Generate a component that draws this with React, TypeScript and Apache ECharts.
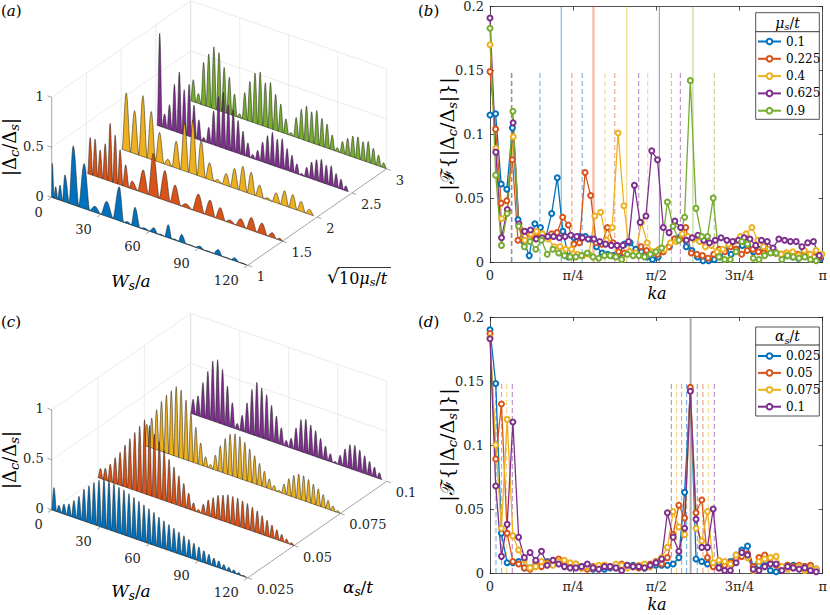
import React, { useEffect, useRef } from "react";
import * as echarts from "echarts";

const SERIF = "DejaVu Serif";
const INK = "#262626";
const GRID_GRAY = "#e3e3e3";
const AXIS_GRAY = "#8c8c8c";
const COLORS = ["#0072BD", "#D95319", "#EDB120", "#7E2F8E", "#77AC30", "#808080"];

// ---------------- panel (b): spectra vs mu_s/t ----------------
const MU_VALUES = [0.1, 0.225, 0.4, 0.625, 0.9];
const MU_LABELS = ["0.1", "0.225", "0.4", "0.625", "0.9"];
const B_K_STEP = [1 / 59.35, 1 / 59.5, 1 / 57.15, 1 / 57.6, 1 / 58.14]; // in units of pi
const B_MU_010 = [
  0.115, 0.116, 0.061, 0.057, 0.105, 0.033, 0.016, 0.005, 0.03, 0.027,
  0.02, 0.038, 0.066, 0.024, 0.004, 0.019, 0.02, 0.02, 0.018, 0.012,
  0.007, 0.006, 0.005, 0.006, 0.014, 0.015, 0.01, 0.008, 0.004, 0.002,
  0.004, 0.01, 0.012, 0.018, 0.02, 0.012, 0.009, 0.004, 0.001, 0.001,
  0.002, 0.004, 0.009, 0.006, 0.01, 0.013, 0.012, 0.008, 0.01, 0.012,
  0.009, 0.007, 0.006, 0.005, 0.004, 0.003, 0.008, 0.006, 0.004, 0.003,
];
const B_MU_0225 = [
  0.149, 0.104, 0.046, 0.048, 0.08, 0.017, 0.024, 0.022, 0.019, 0.022,
  0.02, 0.022, 0.023, 0.035, 0.029, 0.014, 0.015, 0.07, 0.052, 0.015,
  0.014, 0.027, 0.015, 0.008, 0.007, 0.008, 0.006, 0.012, 0.009, 0.007,
  0.006, 0.008, 0.012, 0.018, 0.018, 0.027, 0.007, 0.006, 0.005, 0.003,
  0.006, 0.01, 0.008, 0.012, 0.01, 0.006, 0.009, 0.01, 0.008, 0.007,
  0.009, 0.007, 0.006, 0.007, 0.005, 0.006, 0.005, 0.006, 0.004, 0.004,
];
const B_MU_040 = [
  0.17, 0.089, 0.034, 0.04, 0.098, 0.028, 0.017, 0.022, 0.024, 0.022,
  0.018, 0.012, 0.012, 0.01, 0.01, 0.006, 0.005, 0.006, 0.036, 0.039,
  0.017, 0.027, 0.101, 0.044, 0.008, 0.007, 0.031, 0.015, 0.008, 0.01,
  0.01, 0.015, 0.016, 0.022, 0.02, 0.018, 0.016, 0.012, 0.013, 0.008,
  0.01, 0.014, 0.016, 0.02, 0.022, 0.027, 0.017, 0.012, 0.01, 0.008,
  0.006, 0.007, 0.008, 0.005, 0.009, 0.006, 0.009, 0.006,
];
const B_MU_0625 = [
  0.191, 0.086, 0.019, 0.041, 0.109, 0.03, 0.024, 0.025, 0.018, 0.019,
  0.02, 0.02, 0.019, 0.02, 0.021, 0.02, 0.019, 0.018, 0.018, 0.016,
  0.014, 0.013, 0.013, 0.013, 0.016, 0.06, 0.031, 0.036, 0.087, 0.08,
  0.027, 0.023, 0.032, 0.027, 0.017, 0.019, 0.021, 0.017, 0.015, 0.017,
  0.019, 0.017, 0.016, 0.017, 0.019, 0.018, 0.013, 0.017, 0.016, 0.011,
  0.018, 0.017, 0.016, 0.016, 0.012, 0.015, 0.016, 0.005,
];
// mu_s/t = 0.9 in (b) and alpha_s/t = 0.1 in (d) are the same curve
const B_MU_090 = [
  0.183, 0.068, 0.013, 0.038, 0.118, 0.028, 0.012, 0.016, 0.01, 0.017,
  0.006, 0.01, 0.007, 0.005, 0.004, 0.004, 0.005, 0.007, 0.004, 0.003,
  0.005, 0.005, 0.004, 0.002, 0.006, 0.005, 0.005, 0.004, 0.006, 0.008,
  0.011, 0.047, 0.028, 0.017, 0.035, 0.142, 0.042, 0.02, 0.02, 0.05,
  0.004, 0.002, 0.002, 0.008, 0.016, 0.014, 0.003, 0.002, 0.005, 0.007,
  0.007, 0.002, 0.005, 0.004, 0.003, 0.004, 0.002, 0.001,
];
const B_SERIES = [B_MU_010, B_MU_0225, B_MU_040, B_MU_0625, B_MU_090];
const B_SOLID_K = [0.214, 0.311, 0.411, 0.509, 0.61];
const B_DASH_K = [
  [0.15, 0.277],
  [0.246, 0.375],
  [0.346, 0.474],
  [0.447, 0.572],
  [0.545, 0.674],
];
const B_GRAY_DASH_K = 0.065;

// ---------------- panel (d): spectra vs alpha_s/t ----------------
const ALPHA_VALUES = [0.025, 0.05, 0.075, 0.1];
const ALPHA_LABELS = ["0.025", "0.05", "0.075", "0.1"];
const D_K_STEP = 1 / 58.14;
const D_ALPHA_0025 = [
  0.19, 0.148, 0.031, 0.008, 0.008, 0.009, 0.004, 0.004, 0.006, 0.007,
  0.009, 0.008, 0.009, 0.006, 0.007, 0.006, 0.005, 0.004, 0.003, 0.004,
  0.003, 0.004, 0.005, 0.006, 0.005, 0.006, 0.005, 0.004, 0.005, 0.006,
  0.006, 0.006, 0.007, 0.012, 0.063, 0.143, 0.011, 0.009, 0.007, 0.006,
  0.008, 0.007, 0.009, 0.014, 0.018, 0.021, 0.005, 0.006, 0.006, 0.002,
  0.001, 0.004, 0.006, 0.006, 0.005, 0.005, 0.005, 0.003,
];
const D_ALPHA_005 = [
  0.187, 0.089, 0.132, 0.031, 0.009, 0.007, 0.004, 0.003, 0.008, 0.005,
  0.008, 0.01, 0.011, 0.008, 0.006, 0.007, 0.004, 0.003, 0.005, 0.004,
  0.006, 0.005, 0.004, 0.007, 0.006, 0.005, 0.004, 0.006, 0.007, 0.009,
  0.007, 0.012, 0.03, 0.053, 0.043, 0.145, 0.047, 0.057, 0.012, 0.005,
  0.004, 0.006, 0.008, 0.011, 0.013, 0.015, 0.005, 0.012, 0.014, 0.008,
  0.006, 0.004, 0.006, 0.005, 0.006, 0.005, 0.006, 0.003,
];
const D_ALPHA_0075 = [
  0.184, 0.1, 0.035, 0.12, 0.029, 0.018, 0.01, 0.004, 0.005, 0.009,
  0.007, 0.006, 0.009, 0.01, 0.008, 0.007, 0.004, 0.005, 0.004, 0.006,
  0.006, 0.005, 0.007, 0.006, 0.004, 0.005, 0.006, 0.007, 0.005, 0.008,
  0.012, 0.02, 0.048, 0.036, 0.03, 0.142, 0.035, 0.025, 0.048, 0.008,
  0.01, 0.009, 0.007, 0.014, 0.016, 0.012, 0.002, 0.009, 0.011, 0.012,
  0.013, 0.005, 0.003, 0.004, 0.005, 0.002, 0.004, 0.003,
];
const D_SERIES = [D_ALPHA_0025, D_ALPHA_005, D_ALPHA_0075, B_MU_090];
const D_GRAY_SOLID_K = 0.603;
const D_DASH_K = [
  [0.018, 0.591, 0.623],
  [0.035, 0.576, 0.64],
  [0.05, 0.561, 0.656],
  [0.067, 0.545, 0.674],
];
const DASH_TOP = 0.15;

const K_TICKS = [0, 0.25, 0.5, 0.75, 1];
const K_TICK_LABELS = ["0", "π/4", "π/2", "3π/4", "π"];
const F_TICKS = [0, 0.05, 0.1, 0.15, 0.2];
const F_TICK_LABELS = ["0", "0.05", "0.1", "0.15", "0.2"];

// ---------------- panels (a)/(c): waterfalls of |Δc/Δs| vs Ws/a ----------------
const W_MAX = 120;
const W_TICKS = [0, 30, 60, 90, 120];
const W_TICK_LABELS = ["0", "30", "60", "90", "120"];
const Z_TICKS = [0, 0.5, 1];
const Z_TICK_LABELS = ["0", "0.5", "1"];
const SQRT_TICKS = [1, 1.5, 2, 2.5, 3];
const SQRT_TICK_LABELS = ["1", "1.5", "2", "2.5", "3"];

// (a) peak positions (W) and heights per ridge
const A_BLUE_W = [0.4, 2.4, 5.1, 8.1, 13.2, 19.9, 26.5, 33.7, 41.4, 46.5, 51, 57, 62.6, 67, 71.4, 75.5, 79.6, 85, 90.8, 96, 102, 107, 112.2, 117];
const A_BLUE_H = [0.34, 0.12, 0.15, 0.27, 0.59, 0.45, 0.06, 0.15, 0.34, 0.02, 0.19, 0.015, 0.05, 0.01, 0.13, 0.01, 0.08, 0.005, 0.025, 0.005, 0.055, 0.005, 0.03, 0.005];
const A_ORANGE_W = [2.3, 5.3, 8.4, 11.5, 14.5, 17.6, 20.6, 24, 28, 34.8, 40.9, 48.1, 54.3, 61, 68.6, 75.7, 82, 88, 94.5, 101, 107.5, 114, 118.5];
const A_ORANGE_H = [0.37, 0.37, 0.28, 0.36, 0.58, 0.48, 0.35, 0.22, 0.08, 0.23, 0.43, 0.3, 0.19, 0.04, 0.18, 0.16, 0.12, 0.03, 0.08, 0.13, 0.11, 0.05, 0.02];
const A_YELLOW_START = 3.1;
const A_YELLOW_PERIOD = 5.1;
const A_YELLOW_H = [0.58, 0.43, 0.61, 0.48, 0.3, 0.06, 0.27, 0.48, 0.54, 0.37, 0.17, 0.03, 0.12, 0.2, 0.25, 0.22, 0.12, 0.02, 0.1, 0.15, 0.14, 0.1, 0.05];
const A_PURPLE_START = 2.3;
const A_PURPLE_PERIOD = 3.0;
const A_PURPLE_H = [
  0.93, 0.14, 0.25, 0.47, 0.61, 0.45, 0.52, 0.33, 0.2, 0.04,
  0.16, 0.34, 0.5, 0.56, 0.45, 0.42, 0.33, 0.24, 0.14, 0.04,
  0.1, 0.2, 0.28, 0.33, 0.28, 0.3, 0.22, 0.17, 0.1, 0.02,
  0.1, 0.17, 0.21, 0.23, 0.19, 0.2, 0.14, 0.1, 0.05,
];
const A_GREEN_START = 1.6;
const A_GREEN_PERIOD = 3.15;
const A_GREEN_H = [
  0.22, 0.1, 0.43, 0.53, 0.62, 0.58, 0.45, 0.37, 0.22, 0.04,
  0.27, 0.4, 0.5, 0.53, 0.44, 0.46, 0.36, 0.28, 0.15, 0.03,
  0.2, 0.3, 0.35, 0.31, 0.34, 0.28, 0.24, 0.15, 0.04, 0.12,
  0.17, 0.21, 0.22, 0.19, 0.21, 0.16, 0.11, 0.05,
];

// (c) peak heights per ridge (regularly spaced peaks)
const C_BLUE_START = 1.4;
const C_BLUE_PERIOD = 3.06;
const C_BLUE_H = [
  0.23, 0.07, 0.1, 0.12, 0.17, 0.23, 0.32, 0.37, 0.42, 0.46,
  0.49, 0.49, 0.48, 0.46, 0.45, 0.43, 0.41, 0.39, 0.37, 0.35,
  0.33, 0.3, 0.28, 0.26, 0.24, 0.22, 0.2, 0.18, 0.16, 0.14,
  0.12, 0.1, 0.08, 0.07, 0.05, 0.04, 0.03, 0.02, 0.01,
];
const C_START = 1.5;
const C_PERIOD = 3.0;
const C_ORANGE_H = [
  0.1, 0.12, 0.18, 0.26, 0.33, 0.42, 0.5, 0.58, 0.66, 0.74,
  0.7, 0.63, 0.57, 0.5, 0.43, 0.37, 0.3, 0.24, 0.16, 0.08,
  0.03, 0.1, 0.16, 0.2, 0.24, 0.26, 0.28, 0.28, 0.28, 0.27,
  0.26, 0.24, 0.22, 0.19, 0.16, 0.13, 0.1, 0.07, 0.04, 0.02,
];
const C_YELLOW_H = [
  0.22, 0.3, 0.4, 0.5, 0.58, 0.64, 0.7, 0.68, 0.6, 0.48,
  0.36, 0.22, 0.1, 0.04, 0.15, 0.26, 0.35, 0.41, 0.43, 0.42,
  0.38, 0.33, 0.28, 0.22, 0.16, 0.1, 0.05, 0.02, 0.1, 0.17,
  0.22, 0.25, 0.25, 0.23, 0.2, 0.17, 0.13, 0.09, 0.05, 0.02,
];
const C_PURPLE_H = [
  0.15, 0.2, 0.35, 0.48, 0.6, 0.63, 0.55, 0.4, 0.25, 0.06,
  0.16, 0.3, 0.45, 0.54, 0.5, 0.45, 0.36, 0.27, 0.17, 0.06,
  0.1, 0.22, 0.32, 0.34, 0.3, 0.26, 0.2, 0.14, 0.08, 0.02,
  0.1, 0.18, 0.24, 0.25, 0.22, 0.18, 0.14, 0.1, 0.06,
];

// ---------------- layout of the projected 3-D boxes ----------------
const L3 = { ox: 51.7, oy: [197.3, 509.8], wx: 196 / 120, wy: 68 / 120, dx: 139, dy: -96.5, zy: -100 };
function project(panel: number, w: number, d: number, z: number) {
  return [L3.ox + w * L3.wx + d * L3.dx, L3.oy[panel] + w * L3.wy + d * L3.dy + z * L3.zy];
}
const sqrtFrac = (s: number) => (s - 1) / 2;
const alphaFrac = (a: number) => (a - 0.025) / 0.075;
const regular = (start: number, period: number, n: number) => Array.from({ length: n }, (_, i) => start + i * period);

function lobes(positions: number[], heights: number[]) {
  const n = positions.length;
  const out: number[][] = [];
  for (let i = 0; i < n; i++) {
    const p = positions[i];
    const left = i === 0 ? Math.max(0, p - (positions[1] - p) / 2) : (positions[i - 1] + p) / 2;
    const right = i === n - 1 ? Math.min(W_MAX, p + (p - positions[i - 1]) / 2) : (p + positions[i + 1]) / 2;
    out.push([left, p, right, heights[i]]);
  }
  return out;
}

function ridgeSeries(panel: number, depth: number, color: string, positions: number[], heights: number[]) {
  return {
    type: "custom",
    coordinateSystem: "cartesian2d",
    xAxisIndex: 4,
    yAxisIndex: 4,
    silent: true,
    clip: false,
    data: lobes(positions, heights),
    renderItem: (_p: any, api: any) => {
      const L = api.value(0), P = api.value(1), R = api.value(2), H = api.value(3);
      const pt = (w: number, z: number) => api.coord(project(panel, w, depth, z));
      const pts: number[][] = [pt(L, 0)];
      const n = 7;
      for (let k = 1; k <= n; k++) pts.push(pt(L + ((P - L) * k) / n, H * Math.pow(Math.sin((Math.PI / 2) * (k / n)), 1.6)));
      for (let k = 1; k <= n; k++) pts.push(pt(P + ((R - P) * k) / n, H * Math.pow(Math.cos((Math.PI / 2) * (k / n)), 1.6)));
      return {
        type: "polygon",
        shape: { points: pts },
        style: { fill: color, stroke: "#1c1c1c", lineWidth: 0.5, lineJoin: "round" },
      };
    },
  };
}

function frameSeries(panel: number, depthFracs: number[]) {
  const segs: number[][] = [];
  depthFracs.forEach((d) => { if (d > 0) segs.push([0, d, 0, 0, d, 1, 0]); });
  Z_TICKS.forEach((z) => segs.push([0, 0, z, 0, 1, z, 0]));
  W_TICKS.forEach((w) => segs.push([w, 1, 0, w, 1, 1, 0]));
  Z_TICKS.forEach((z) => segs.push([0, 1, z, W_MAX, 1, z, 0]));
  segs.push([0, 0, 0, 0, 0, 1, 1]);
  segs.push([0, 0, 0, W_MAX, 0, 0, 1]);
  segs.push([W_MAX, 0, 0, W_MAX, 1, 0, 1]);
  return {
    type: "custom",
    coordinateSystem: "cartesian2d",
    xAxisIndex: 4,
    yAxisIndex: 4,
    silent: true,
    clip: false,
    data: segs,
    renderItem: (_p: any, api: any) => {
      const a = api.coord(project(panel, api.value(0), api.value(1), api.value(2)));
      const b = api.coord(project(panel, api.value(3), api.value(4), api.value(5)));
      const axis = api.value(6) === 1;
      return {
        type: "line",
        shape: { x1: a[0], y1: a[1], x2: b[0], y2: b[1] },
        style: { stroke: axis ? AXIS_GRAY : GRID_GRAY, lineWidth: axis ? 0.8 : 0.7 },
      };
    },
  };
}

function unit(x: number, y: number) {
  const l = Math.hypot(x, y);
  return [x / l, y / l];
}
const TICK_DIRS = [unit(-L3.wx, -L3.wy), unit(-L3.dx, -L3.dy), unit(L3.wx, L3.wy)];

function tickSeries(panel: number, depthFracs: number[]) {
  const data: number[][] = [];
  Z_TICKS.forEach((z) => data.push([0, 0, z, 0]));
  W_TICKS.forEach((w) => data.push([w, 0, 0, 1]));
  depthFracs.forEach((d) => data.push([W_MAX, d, 0, 2]));
  return {
    type: "custom",
    coordinateSystem: "cartesian2d",
    xAxisIndex: 4,
    yAxisIndex: 4,
    silent: true,
    clip: false,
    data,
    renderItem: (_p: any, api: any) => {
      const a = api.coord(project(panel, api.value(0), api.value(1), api.value(2)));
      const dir = TICK_DIRS[api.value(3)];
      return {
        type: "line",
        shape: { x1: a[0], y1: a[1], x2: a[0] + dir[0] * 4.5, y2: a[1] + dir[1] * 4.5 },
        style: { stroke: AXIS_GRAY, lineWidth: 0.8 },
      };
    },
  };
}

const LABEL_OFFSETS = [
  { dx: -8, dy: -1, align: "right" },
  { dx: -9, dy: 15, align: "right" },
  { dx: 9, dy: 11.5, align: "left" },
];
function labelSeries(panel: number, depthFracs: number[], depthLabels: string[]) {
  const texts: string[] = [];
  const data: number[][] = [];
  Z_TICKS.forEach((z, i) => { data.push([0, 0, z, 0, texts.length]); texts.push(Z_TICK_LABELS[i]); });
  W_TICKS.forEach((w, i) => { data.push([w, 0, 0, 1, texts.length]); texts.push(W_TICK_LABELS[i]); });
  depthFracs.forEach((d, i) => { data.push([W_MAX, d, 0, 2, texts.length]); texts.push(depthLabels[i]); });
  return {
    type: "custom",
    coordinateSystem: "cartesian2d",
    xAxisIndex: 4,
    yAxisIndex: 4,
    silent: true,
    clip: false,
    data,
    renderItem: (_p: any, api: any) => {
      const a = api.coord(project(panel, api.value(0), api.value(1), api.value(2)));
      const o = LABEL_OFFSETS[api.value(3)];
      return {
        type: "text",
        x: a[0] + o.dx,
        y: a[1] + o.dy,
        style: {
          text: texts[api.value(4)],
          fill: INK,
          fontFamily: SERIF,
          fontSize: 13,
          align: o.align,
          verticalAlign: "middle",
        },
      };
    },
  };
}

function vlineSeries(xAxisIndex: number, yAxisIndex: number, data: number[][]) {
  return {
    type: "custom",
    xAxisIndex,
    yAxisIndex,
    silent: true,
    z: 1,
    data,
    renderItem: (_p: any, api: any) => {
      const a = api.coord([api.value(0), api.value(1)]);
      const b = api.coord([api.value(0), api.value(2)]);
      return {
        type: "line",
        shape: { x1: a[0], y1: a[1], x2: b[0], y2: b[1] },
        style: {
          stroke: COLORS[api.value(3)],
          lineWidth: api.value(5),
          opacity: api.value(6),
          lineDash: api.value(4) ? [5, 3] : null,
        },
      };
    },
  };
}

function richFor(size: number) {
  return {
    i: { fontFamily: SERIF, fontStyle: "italic", fontSize: size, fill: "#000" },
    s: {
      fontFamily: SERIF,
      fontStyle: "italic",
      fontSize: Math.round(size * 0.7),
      lineHeight: Math.round(size * 0.7),
      verticalAlign: "bottom",
      fill: "#000",
    },
  };
}
function mathText(x: number, y: number, text: string, size = 16, rot = 0, align = "center") {
  return {
    type: "text",
    x,
    y,
    rotation: rot,
    z: 100,
    silent: true,
    style: {
      text,
      rich: richFor(size),
      fontFamily: SERIF,
      fontSize: size,
      fill: "#000",
      align,
      verticalAlign: "middle",
      lineHeight: Math.round(size * 1.25),
    },
  };
}
function hline(x1: number, y1: number, x2: number, y2: number, w = 0.8) {
  return { type: "line", z: 100, silent: true, shape: { x1, y1, x2, y2 }, style: { stroke: "#000", lineWidth: w } };
}
function legendBox(x: number, y: number, w: number, h: number) {
  return { type: "rect", z: 3.5, silent: true, shape: { x, y, width: w, height: h }, style: { fill: "#fff", stroke: INK, lineWidth: 0.8 } };
}

function lineAxes(gridIndex: number) {
  const line = { show: true, onZero: false, lineStyle: { color: INK, width: 0.8 } };
  const tick = { show: true, inside: true, length: 4, lineStyle: { color: INK, width: 0.8 } };
  const x = (pos: string, labels: boolean) => ({
    type: "value",
    gridIndex,
    position: pos,
    min: 0,
    max: 1,
    interval: 0.25,
    axisLine: line,
    axisTick: tick,
    splitLine: { show: false },
    axisLabel: {
      show: labels,
      margin: 6,
      color: INK,
      fontFamily: SERIF,
      fontSize: 13,
      lineHeight: 14,
      formatter: (v: number) => {
        const i = K_TICKS.findIndex((t) => Math.abs(t - v) < 1e-9);
        return i >= 0 ? K_TICK_LABELS[i] : "";
      },
    },
  });
  const y = (pos: string, labels: boolean) => ({
    type: "value",
    gridIndex,
    position: pos,
    min: 0,
    max: 0.2,
    interval: 0.05,
    axisLine: line,
    axisTick: tick,
    splitLine: { show: false },
    axisLabel: {
      show: labels,
      margin: 6,
      color: INK,
      fontFamily: SERIF,
      fontSize: 13,
      formatter: (v: number) => {
        const i = F_TICKS.findIndex((t) => Math.abs(t - v) < 1e-9);
        return i >= 0 ? F_TICK_LABELS[i] : "";
      },
    },
  });
  return { xs: [x("bottom", true), x("top", false)], ys: [y("left", true), y("right", false)] };
}

function lineSeries(name: string, color: string, xIdx: number, yIdx: number, values: number[], step: number) {
  return {
    name,
    type: "line",
    xAxisIndex: xIdx,
    yAxisIndex: yIdx,
    data: values.map((v, i) => [i * step, v]),
    symbol: "emptyCircle",
    symbolSize: 5,
    showSymbol: true,
    showAllSymbol: true,
    z: 3,
    lineStyle: { color, width: 1.3 },
    itemStyle: { color, borderWidth: 1.1 },
    emphasis: { disabled: true },
  };
}

function buildOption() {
  const series: any[] = [];
  const aDepth = SQRT_TICKS.map(sqrtFrac);
  const cDepth = ALPHA_VALUES.map(alphaFrac);

  series.push(frameSeries(0, aDepth));
  series.push(frameSeries(1, cDepth));

  const aRidges = [
    { pos: A_BLUE_W, h: A_BLUE_H },
    { pos: A_ORANGE_W, h: A_ORANGE_H },
    { pos: regular(A_YELLOW_START, A_YELLOW_PERIOD, A_YELLOW_H.length), h: A_YELLOW_H },
    { pos: regular(A_PURPLE_START, A_PURPLE_PERIOD, A_PURPLE_H.length), h: A_PURPLE_H },
    { pos: regular(A_GREEN_START, A_GREEN_PERIOD, A_GREEN_H.length), h: A_GREEN_H },
  ];
  for (let r = aRidges.length - 1; r >= 0; r--) {
    series.push(ridgeSeries(0, sqrtFrac(Math.sqrt(10 * MU_VALUES[r])), COLORS[r], aRidges[r].pos, aRidges[r].h));
  }
  const cRidges = [
    { pos: regular(C_BLUE_START, C_BLUE_PERIOD, C_BLUE_H.length), h: C_BLUE_H },
    { pos: regular(C_START, C_PERIOD, C_ORANGE_H.length), h: C_ORANGE_H },
    { pos: regular(C_START, C_PERIOD, C_YELLOW_H.length), h: C_YELLOW_H },
    { pos: regular(C_START, C_PERIOD, C_PURPLE_H.length), h: C_PURPLE_H },
  ];
  for (let r = cRidges.length - 1; r >= 0; r--) {
    series.push(ridgeSeries(1, alphaFrac(ALPHA_VALUES[r]), COLORS[r], cRidges[r].pos, cRidges[r].h));
  }
  series.push(tickSeries(0, aDepth), tickSeries(1, cDepth));
  series.push(labelSeries(0, aDepth, SQRT_TICK_LABELS), labelSeries(1, cDepth, ALPHA_LABELS));

  const bV: number[][] = [[B_GRAY_DASH_K, 0, DASH_TOP, 5, 1, 1.6, 0.85]];
  B_SOLID_K.forEach((k, c) => bV.push([k, 0, 0.2, c, 0, c === 1 ? 2.6 : 1, c === 1 ? 0.35 : 0.6]));
  B_DASH_K.forEach((ks, c) => ks.forEach((k) => bV.push([k, 0, DASH_TOP, c, 1, 1, 0.6])));
  series.push(vlineSeries(0, 0, bV));
  B_SERIES.forEach((vals, c) => series.push(lineSeries("b" + c, COLORS[c], 0, 0, vals, B_K_STEP[c])));

  const dV: number[][] = [[D_GRAY_SOLID_K, 0, 0.2, 5, 0, 2, 0.65]];
  D_DASH_K.forEach((ks, c) => ks.forEach((k) => dV.push([k, 0, DASH_TOP, c, 1, 1, 0.6])));
  series.push(vlineSeries(2, 2, dV));
  D_SERIES.forEach((vals, c) => series.push(lineSeries("d" + c, COLORS[c], 2, 2, vals, D_K_STEP)));

  const g0 = lineAxes(0);
  const g1 = lineAxes(1);
  const legendCommon = {
    orient: "vertical",
    left: 757,
    itemWidth: 23,
    itemHeight: 7,
    selectedMode: false,
    padding: 0,
    textStyle: { fontFamily: SERIF, fontSize: 12, color: "#000" },
  };

  return {
    animation: false,
    backgroundColor: "#fff",
    grid: [
      { left: 490, top: 6, width: 334, height: 256 },
      { left: 490, top: 317, width: 334, height: 256 },
      { left: 0, top: 0, width: 830, height: 615 },
    ],
    xAxis: [
      ...g0.xs,
      ...g1.xs,
      { type: "value", gridIndex: 2, min: 0, max: 830, show: false },
    ],
    yAxis: [
      ...g0.ys,
      ...g1.ys,
      { type: "value", gridIndex: 2, min: 0, max: 615, inverse: true, show: false },
    ],
    legend: [
      {
        ...legendCommon,
        top: 35.5,
        itemGap: 5.3,
        data: B_SERIES.map((_, c) => "b" + c),
        formatter: (n: string) => MU_LABELS[+n.slice(1)],
      },
      {
        ...legendCommon,
        top: 350,
        itemGap: 4.9,
        data: D_SERIES.map((_, c) => "d" + c),
        formatter: (n: string) => ALPHA_LABELS[+n.slice(1)],
      },
    ],
    graphic: [
      legendBox(755.7, 12.7, 63.6, 106.6),
      legendBox(755.7, 327, 63.6, 89),
      mathText(1, 11, "({i|a})", 15, 0, "left"),
      mathText(418, 11, "({i|b})", 15, 0, "left"),
      mathText(1, 322, "({i|c})", 15, 0, "left"),
      mathText(418, 322, "({i|d})", 15, 0, "left"),
      mathText(9, 147, "|Δ{s|c}/Δ{s|s}|", 18, Math.PI / 2),
      mathText(131, 281, "{i|W}{s|s}/{i|a}", 17),
      { type: "text", x: 327, y: 276, z: 100, silent: true, style: { text: "√", fontFamily: SERIF, fontSize: 19, fill: "#000", align: "left", verticalAlign: "middle" } },
      hline(338, 267.5, 391, 267.5),
      mathText(339, 278, "10{i|μ}{s|s}/{i|t}", 16, 0, "left"),
      mathText(9, 460, "|Δ{s|c}/Δ{s|s}|", 18, Math.PI / 2),
      mathText(131, 591, "{i|W}{s|s}/{i|a}", 17),
      mathText(358, 587, "{i|α}{s|s}/{i|t}", 17),
      mathText(447, 134, "|ℱ{|Δ{s|c}/Δ{s|s}|}|", 19, Math.PI / 2),
      mathText(657, 293, "{i|ka}", 16),
      mathText(787.5, 22.5, "{i|μ}{s|s}/{i|t}", 14),
      hline(755.7, 31.7, 819.3, 31.7),
      mathText(447, 445, "|ℱ{|Δ{s|c}/Δ{s|s}|}|", 19, Math.PI / 2),
      mathText(657, 604, "{i|ka}", 16),
      mathText(787.5, 336, "{i|α}{s|s}/{i|t}", 14),
      hline(755.7, 345, 819.3, 345),
    ],
    series,
  };
}

export default function App() {
  const ref = useRef<HTMLDivElement>(null);
  useEffect(() => {
    if (!ref.current) return;
    const chart = echarts.init(ref.current, undefined, { renderer: "svg" });
    chart.setOption(buildOption() as any);
    return () => chart.dispose();
  }, []);
  return (
    <div
      ref={ref}
      style={{ position: "absolute", left: 0, top: 0, width: 830, height: 615, background: "#fff" }}
    />
  );
}
